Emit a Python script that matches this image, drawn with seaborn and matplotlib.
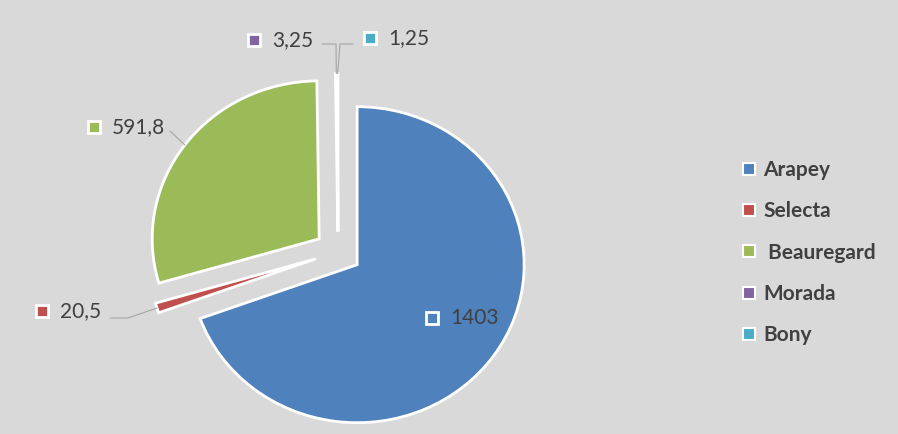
import matplotlib
matplotlib.use("Agg")
import matplotlib.pyplot as plt
from matplotlib.lines import Line2D
import numpy as np
import seaborn as sns

# data
varieties = ["Arapey", "Selecta", " Beauregard", "Morada", "Bony"]
production = [1403, 20.5, 591.8, 3.25, 1.25]
value_labels = ["1403", "20,5", "591,8", "3,25", "1,25"]
explode = [0.14, 0.14, 0.14, 0.13, 0.13]
palette = sns.color_palette(["#4F81BD", "#C0504D", "#9BBB59", "#8064A2", "#4BACC6"])

sns.set_theme(style="white")
plt.rcParams["font.family"] = ["Lato", "DejaVu Sans"]

bg = "#D9D9D9"
txt = "#404040"
W, H = 898, 434
fig = plt.figure(figsize=(W / 100, H / 100), dpi=100, facecolor=bg)
ax = fig.add_axes([0, 0, 1, 1])

wedges, _ = ax.pie(production, explode=explode, colors=palette, startangle=90,
                   counterclock=False,
                   wedgeprops=dict(edgecolor="white", linewidth=2))

# pie centre in pixels (from top) and radius, slightly wider than tall
cx, cy, rx, ry = 338, 252, 167, 158
ax.set_aspect("auto")
ax.set_xlim(-cx / rx, (W - cx) / rx)
ax.set_ylim(-(H - cy) / ry, cy / ry)
ax.axis("off")


def px(x, y):
    return (x - cx) / rx, (cy - y) / ry


def tip(w):
    # outer middle point of a wedge
    t = np.deg2rad((w.theta1 + w.theta2) / 2)
    return w.center[0] + w.r * np.cos(t), w.center[1] + w.r * np.sin(t)


# data labels: text left edge in pixels
label_pos = [(450, 318), (60, 311), (112, 127), (272, 40), (388, 38)]
for i, (w, lab) in enumerate(zip(wedges, value_labels)):
    tx, ty = px(*label_pos[i])
    mx, my = px(label_pos[i][0] - 18, label_pos[i][1])
    ax.plot(mx, my, marker="s", ms=9, mfc=palette[i], mec="white", mew=2,
            ls="", zorder=5)
    ax.text(tx, ty, lab, fontsize=15, color=txt, va="center", ha="left", zorder=5)

lc = "#A6A6A6"
# leader lines
ex, ey = tip(wedges[1])
ax.plot([px(110, 318)[0], px(128, 318)[0], ex], [px(110, 318)[1], px(128, 318)[1], ey],
        color=lc, lw=0.8, zorder=4)
ex, ey = tip(wedges[2])
ax.plot([px(170, 131)[0], ex], [px(170, 131)[1], ey], color=lc, lw=0.8, zorder=4)
ex, ey = tip(wedges[3])
ax.plot([px(322, 44)[0], px(336, 44)[0], ex], [px(322, 44)[1], px(336, 44)[1], ey],
        color=lc, lw=0.8, zorder=4)
ex, ey = tip(wedges[4])
ax.plot([px(353, 44)[0], px(340, 44)[0], ex], [px(353, 44)[1], px(340, 44)[1], ey],
        color=lc, lw=0.8, zorder=4)

handles = [Line2D([], [], marker="s", ls="", ms=8, mfc=c, mec="white", mew=1.5)
           for c in palette]
leg = ax.legend(handles, varieties, loc="center left", bbox_to_anchor=(0.822, 0.418),
                bbox_transform=fig.transFigure, frameon=False, borderpad=0,
                borderaxespad=0, handlelength=1.0, handletextpad=0.2,
                labelspacing=1.02, prop=dict(size=15, weight="bold"))
for t in leg.get_texts():
    t.set_color(txt)

fig.savefig("out.png", dpi=100, facecolor=bg)
